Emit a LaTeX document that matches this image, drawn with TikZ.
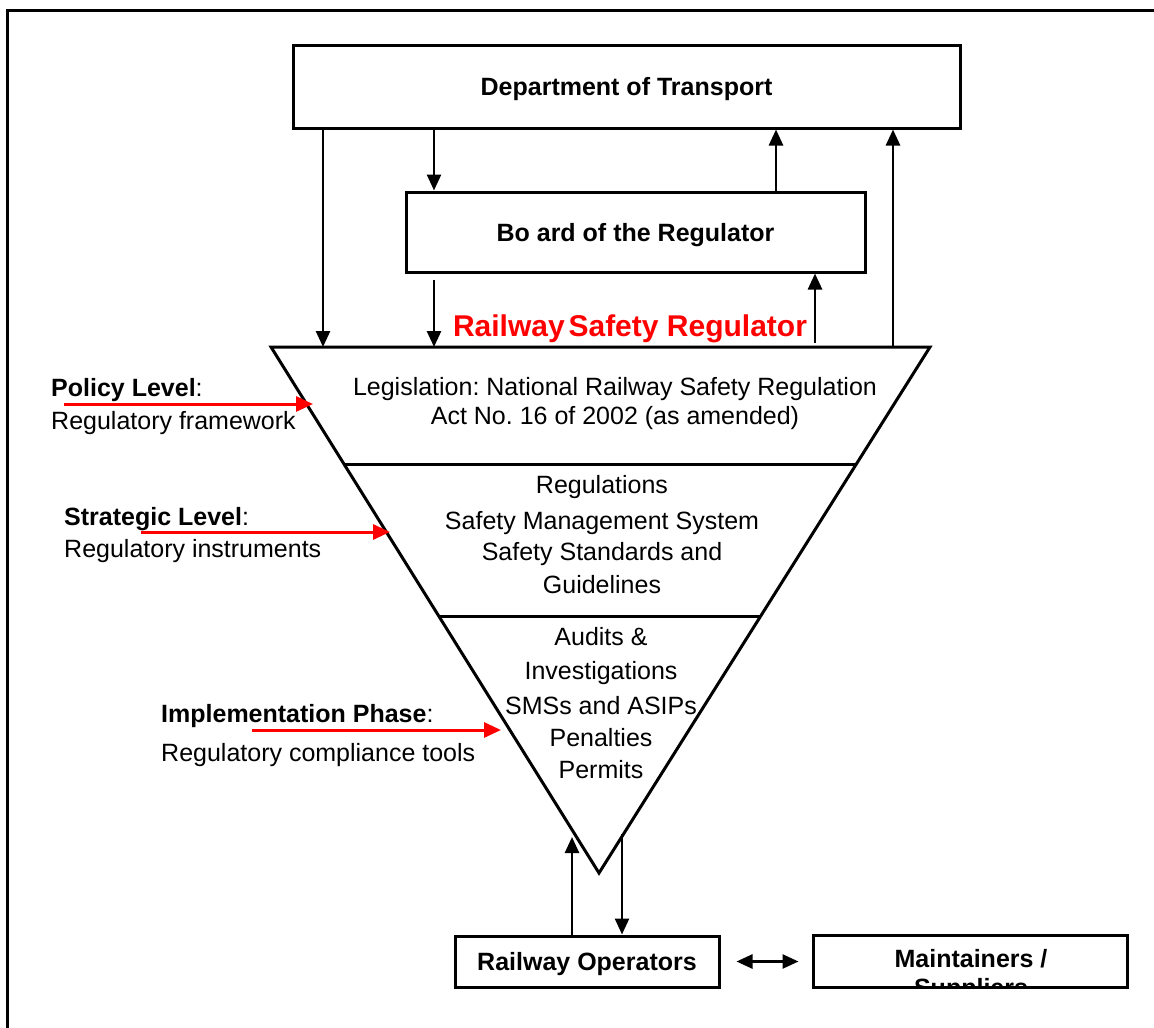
\documentclass[tikz,border=0pt]{standalone}
\usepackage{fontspec}
\setmainfont{Liberation Sans}
\usetikzlibrary{arrows.meta,calc}

\begin{document}
\frenchspacing
\begin{tikzpicture}[x=1pt, y=-1pt,
    box/.style={draw, line width=3pt, inner sep=0pt, text depth=0pt,
                font=\fontsize{25}{30}\selectfont\bfseries},
    lbl/.style={inner sep=0pt, anchor=base, font=\fontsize{25}{30}\selectfont},
    side/.style={inner sep=0pt, anchor=base west, font=\fontsize{25}{30}\selectfont},
    edge/.style={line width=3pt},
    arr/.style={line width=2.6pt, -{Triangle[length=16pt, width=14pt]}},
    dblarr/.style={line width=2.6pt, {Triangle[length=16pt, width=14pt]}-{Triangle[length=16pt, width=14pt]}},
    redarr/.style={red, line width=3pt, -{Triangle[length=17pt, width=15pt]}}]

  % --- 1. Frame ---
  \useasboundingbox (0,0) rectangle (1154,1028);
  \clip (0,0) rectangle (1154,1028);
  \draw[line width=3pt] (7,10) rectangle (1170,1050);

  % --- 2. Department and Board ---
  \node[box, minimum width=667pt, minimum height=83pt] (dot) at (626.5,86.5) {Department of Transport};
  \node[box, minimum width=459pt, minimum height=80pt] (board) at (635.5,232) {Bo ard of the Regulator};

  % --- 3. Inverted triangle (three levels) ---
  \coordinate (tl) at (271,347);
  \coordinate (tr) at (930,347);
  \coordinate (apex) at (599,873);
  \draw[edge, line join=miter] (tl) -- (tr) -- (apex) -- cycle;
  \draw[edge] ($(tl)!0.223!(apex)$) -- ($(tr)!0.223!(apex)$);
  \draw[edge] ($(tl)!0.512!(apex)$) -- ($(tr)!0.512!(apex)$);
  \node[red, inner sep=0pt, anchor=base, font=\fontsize{30}{36}\selectfont\bfseries] (rsr)
    at (630,336) {Railway\hspace{-4.5pt} Safety Regulator};

  % --- 4. Texts of the levels ---
  \foreach \i/\y/\txt in {a/395/Legislation: National Railway Safety Regulation,
                          b/424/Act No. 16 of 2002 (as amended)}
    \node[lbl] (one\i) at (615,\y) {\txt};
  \foreach \i/\y/\txt in {a/493/Regulations, b/529/Safety Management System,
                          c/560/Safety Standards and, d/593/Guidelines}
    \node[lbl] (two\i) at (602,\y) {\txt};
  \foreach \i/\y/\txt in {a/645/Audits \&, b/679/Investigations, c/714/SMSs and ASIPs,
                          d/746/Penalties, e/778/Permits}
    \node[lbl] (three\i) at (601,\y) {\txt};

  % --- 5. Arrows up and down ---
  \draw[arr] (dot.south -| 323,0) -- (tl -| 323,0);
  \draw[arr] (dot.south -| 434,0) -- (board.north -| 434,0);
  \draw[arr] (board.north -| 776,0) -- (dot.south -| 776,0);
  \draw[arr] (tr -| 893,0) -- (dot.south -| 893,0);
  \draw[arr] ($(board.south -| 434,0)+(0,6)$) -- (tl -| 434,0);
  \draw[arr] ($(tr -| 815,0)+(0,-4)$) -- (board.south -| 815,0);

  % --- 6. Levels on the left ---
  \node[side] (pol) at (51,396) {\textbf{Policy Level}:};
  \node[side] (polsub) at (51,429) {Regulatory framework};
  \node[side] (str) at (64,525) {\textbf{Strategic Level}:};
  \node[side] (strsub) at (64,557) {Regulatory instruments};
  \node[side] (imp) at (161,722) {\textbf{Implementation Phase}:};
  \node[side] (impsub) at (161,761) {Regulatory compliance tools};
  \coordinate (polfrom) at (64,404);
  \coordinate (polto) at (313,404);
  \coordinate (strfrom) at (141,532);
  \coordinate (strto) at (390,532);
  \coordinate (impfrom) at (252,730);
  \coordinate (impto) at (501,730);
  \draw[redarr] (polfrom) -- (polto);
  \draw[redarr] (strfrom) -- (strto);
  \draw[redarr] (impfrom) -- (impto);

  % --- 7. Operators and maintainers ---
  \node[box, minimum width=264pt, minimum height=51pt] (ops) at (587,961.5) {Railway Operators};
  \node[box, minimum width=314pt, minimum height=52pt] (maint) at (970,961.5) {};
  \begin{scope}
    \clip ($(maint.south west)+(1.5,-1.5)$) rectangle ($(maint.north east)+(-1.5,1.5)$);
    \node[lbl, font=\fontsize{25}{30}\selectfont\bfseries] (maintup) at (971,967) {Maintainers /};
    \node[lbl, font=\fontsize{25}{30}\selectfont\bfseries] (maintlow) at (971,996) {Suppliers};
  \end{scope}
  \coordinate (opsin) at (572,837);
  \coordinate (opsout) at (622,834);
  \draw[arr] (ops.north -| opsin) -- (opsin);
  \draw[arr] (opsout) -- (ops.north -| opsout);
  \draw[dblarr] ($(ops.east)+(16,0)$) -- ($(maint.west)+(-13,0)$);

\end{tikzpicture}
\end{document}
